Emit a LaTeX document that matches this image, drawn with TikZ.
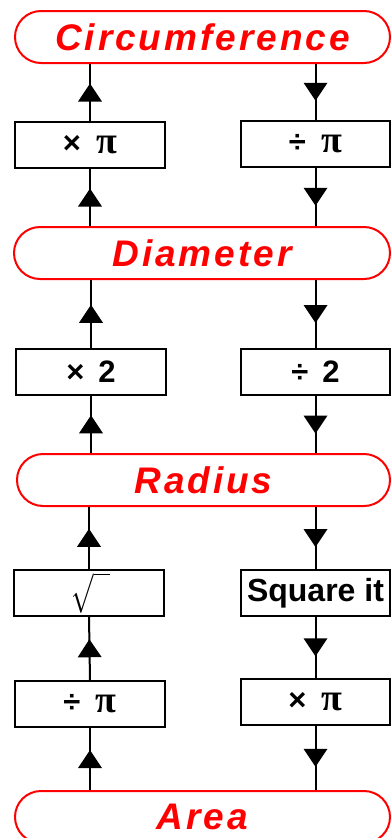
\documentclass[tikz,border=0pt]{standalone}
\usepackage{fontspec}
\usepackage{graphicx}
\setmainfont{Liberation Sans}
\newfontfamily\pillfont[LetterSpace=8]{Liberation Sans}
\newfontfamily\pifont{Liberation Serif}
\usetikzlibrary{decorations.markings}
\definecolor{pillred}{RGB}{255,0,0}
\tikzset{
  pill/.style={draw=pillred, line width=2pt, rounded corners=26pt, minimum width=#1, minimum height=52pt, inner sep=0pt,
    text=pillred, font=\pillfont\fontsize{37}{40}\selectfont\bfseries\itshape},
  opbox/.style={draw=black, line width=2pt, minimum width=150pt, minimum height=46pt, inner sep=0pt,
    font=\fontsize{31}{32}\selectfont\bfseries},
  conn/.style={line width=2pt, postaction={decorate},
    decoration={markings, mark=at position 0.5 with {\fill (9pt,0pt) -- (-9pt,12pt) -- (-9pt,-12pt) -- cycle;}}}
}
\newcommand{\bpi}{{\pifont\fontsize{38}{38}\selectfont\bfseries π}}
\begin{document}
\begin{tikzpicture}[x=1pt,y=-1pt]
\useasboundingbox (0,0) rectangle (391,838);
% pills
\node[pill=375pt] (C) at (202.5,37) {Circumference};
\node[pill=376pt] (D) at (202,253) {Diameter};
\node[pill=373pt] (R) at (203.5,480) {Radius};
\node[pill=375pt] (A) at (202.5,817) {Area};
% left boxes
\node[opbox] (L1) at (90,145) {×\hspace{0.5em}\bpi};
\node[opbox] (L2) at (91,371.5) {×\hspace{0.45em}2};
\node[opbox] (L3) at (89,592.5) {\hspace{3pt}\resizebox{38pt}{36pt}{$\sqrt{\vphantom{X}\hphantom{n}}$}};
\node[opbox] (L4) at (90,704) {÷\hspace{0.5em}\bpi};
% right boxes
\node[opbox, minimum width=149pt] (R1) at (315.5,143.5) {÷\hspace{0.5em}\bpi};
\node[opbox, minimum width=149pt] (R2) at (315.5,372) {÷\hspace{0.45em}2};
\node[opbox, minimum width=149pt, font=\fontsize{32}{32}\selectfont\bfseries] (R3) at (315.5,593) {Square it};
\node[opbox, minimum width=149pt] (R4) at (315.5,701.5) {×\hspace{0.5em}\bpi};
% left column (upwards)
\draw[conn] (L1.north) -- (L1.north |- C.south);
\draw[conn] (L1.north |- D.north) -- (L1.south);
\draw[conn] (L2.north) -- (L2.north |- D.south);
\draw[conn] (L2.north |- R.north) -- (L2.south);
\draw[conn] (L3.north) -- (L3.north |- R.south);
\draw[conn] (L4.north) -- (L3.south);
\draw[conn] (L4.north |- A.north) -- (L4.south);
% right column (downwards)
\draw[conn] (R1.north |- C.south) -- (R1.north);
\draw[conn] (R1.south) -- (R1.south |- D.north);
\draw[conn] (R2.north |- D.south) -- (R2.north);
\draw[conn] (R2.south) -- (R2.south |- R.north);
\draw[conn] (R3.north |- R.south) -- (R3.north);
\draw[conn] (R3.south) -- (R4.north);
\draw[conn] (R4.south) -- (R4.south |- A.north);
\end{tikzpicture}
\end{document}
